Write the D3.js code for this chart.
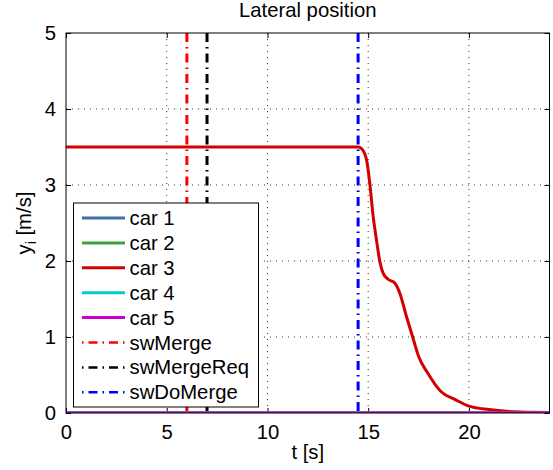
<!DOCTYPE html>
<html>
<head>
<meta charset="utf-8">
<script src="https://cdn.jsdelivr.net/npm/d3@7"></script>
<style>
   body { margin: 0; background: #fff; }
   #chart { width: 553px; height: 470px; }
   text { font-family: "Liberation Sans", Arial, sans-serif; fill: #000; }
</style>
</head>
<body>
<div id="chart"></div>
<script>
// Data
const timeValues = [0, 14.5, 14.67, 14.92, 15.08, 15.25, 15.41, 15.58, 15.74, 15.99, 16.32, 16.57, 16.9, 17.23, 17.51, 17.97, 18.55, 19.37, 20, 21, 22, 23, 24];
const car1Values = [0, 0];
const car2Values = [0, 0];
const car3Values = [3.5, 3.5, 3.48, 3.33, 3.02, 2.58, 2.28, 1.99, 1.84, 1.76, 1.71, 1.575, 1.27, 0.98, 0.74, 0.52, 0.30, 0.17, 0.09, 0.045, 0.02, 0.01, 0.005];
const car4Values = [0, 0];
const car5Values = [0, 0];
const flatTimes = [0, 24];
const switchNames = ["swMerge", "swMergeReq", "swDoMerge"];
const switchTimes = [6, 7, 14.5];
const xTicks = [0, 5, 10, 15, 20];
const yTicks = [0, 1, 2, 3, 4, 5];

const carSeries = [
   { name: "car 1", t: flatTimes, y: car1Values, color: "#3f6fa8" },
   { name: "car 2", t: flatTimes, y: car2Values, color: "#3ca33c" },
   { name: "car 3", t: timeValues, y: car3Values, color: "#d40000" },
   { name: "car 4", t: flatTimes, y: car4Values, color: "#00cccc" },
   { name: "car 5", t: flatTimes, y: car5Values, color: "#cc00cc" }
];
const switchColors = ["#ff0000", "#000000", "#0000ff"];
const dashDot = "9,5,1.5,5";
const fontSize = 20.3;

const margin = { top: 33, right: 3.5, bottom: 57, left: 66 };
const width = 553 - margin.left - margin.right;
const height = 470 - margin.top - margin.bottom;

const svg = d3.select("#chart").append("svg")
   .attr("width", 553)
   .attr("height", 470);

const g = svg.append("g")
   .attr("transform", "translate(" + margin.left + "," + margin.top + ")");

const x = d3.scaleLinear().domain([0, 24]).range([0, width]);
const y = d3.scaleLinear().domain([0, 5]).range([height, 0]);

g.append("clipPath").attr("id", "plot-clip")
   .append("rect").attr("width", width).attr("height", height);

// Grid lines (dotted)
const grid = g.append("g").attr("class", "grid");

grid.selectAll("line.gx").data(xTicks.filter(d => d > 0))
   .enter().append("line")
   .attr("class", "gx")
   .attr("x1", d => x(d)).attr("x2", d => x(d))
   .attr("y1", 0).attr("y2", height)
   .attr("stroke", "#333").attr("stroke-width", 1).attr("stroke-dasharray", "1,5");

grid.selectAll("line.gy").data(yTicks.filter(d => d > 0 && d < 5))
   .enter().append("line")
   .attr("class", "gy")
   .attr("x1", 0).attr("x2", width)
   .attr("y1", d => y(d)).attr("y2", d => y(d))
   .attr("stroke", "#333").attr("stroke-width", 1).attr("stroke-dasharray", "1,5");

// Axes with inward ticks on all four sides
const tickLen = 5;
const fmt = d3.format("d");

g.append("g").attr("transform", "translate(0," + height + ")")
   .call(d3.axisBottom(x).tickValues(xTicks).tickFormat(fmt).tickSizeInner(-tickLen).tickSizeOuter(0).tickPadding(12))
   .call(a => a.select(".domain").remove())
   .call(a => a.selectAll("text").attr("font-size", fontSize).attr("font-family", "Liberation Sans"));

g.append("g")
   .call(d3.axisTop(x).tickValues(xTicks).tickSizeInner(-tickLen).tickSizeOuter(0).tickFormat(""))
   .call(a => a.select(".domain").remove());

g.append("g")
   .call(d3.axisLeft(y).tickValues(yTicks).tickFormat(fmt).tickSizeInner(-tickLen).tickSizeOuter(0).tickPadding(10))
   .call(a => a.select(".domain").remove())
   .call(a => a.selectAll("text").attr("font-size", fontSize).attr("font-family", "Liberation Sans"));

g.append("g").attr("transform", "translate(" + width + ",0)")
   .call(d3.axisRight(y).tickValues(yTicks).tickSizeInner(-tickLen).tickSizeOuter(0).tickFormat(""))
   .call(a => a.select(".domain").remove());

// Car lines
const line = d3.line()
   .x(d => x(d[0]))
   .y(d => y(d[1]))
   .curve(d3.curveMonotoneX);

const plot = g.append("g").attr("clip-path", "url(#plot-clip)");

plot.selectAll(".car").data(carSeries)
   .enter().append("path")
   .attr("class", "car")
   .attr("d", d => line(d.t.map((t, i) => [t, d.y[i]])))
   .attr("fill", "none")
   .attr("stroke", d => d.color)
   .attr("stroke-width", 3);

// Switch time markers
plot.selectAll(".switch").data(switchTimes)
   .enter().append("line")
   .attr("class", "switch")
   .attr("x1", d => x(d)).attr("x2", d => x(d))
   .attr("y1", 0).attr("y2", height)
   .attr("stroke", (d, i) => switchColors[i])
   .attr("stroke-width", 3)
   .attr("stroke-dasharray", dashDot);

// Axes box
g.append("rect")
   .attr("width", width).attr("height", height)
   .attr("fill", "none").attr("stroke", "#000").attr("stroke-width", 1);

// Title and labels
svg.append("text")
   .attr("x", margin.left + width / 2).attr("y", 17)
   .attr("text-anchor", "middle").attr("font-size", fontSize)
   .text("Lateral position");

svg.append("text")
   .attr("x", margin.left + width / 2).attr("y", 459)
   .attr("text-anchor", "middle").attr("font-size", fontSize)
   .text("t [s]");

const yLabel = svg.append("text")
   .attr("transform", "translate(31," + (margin.top + height / 2) + ") rotate(-90)")
   .attr("text-anchor", "middle").attr("font-size", fontSize);
yLabel.append("tspan").text("y");
yLabel.append("tspan").attr("font-size", 14).attr("dy", 5).text("i");
yLabel.append("tspan").attr("dy", -5).text(" [m/s]");

// Legend
const legendItems = carSeries.map(d => ({ name: d.name, color: d.color, dash: null }))
   .concat(switchNames.map((n, i) => ({ name: n, color: switchColors[i], dash: dashDot })));

const legend = svg.append("g").attr("transform", "translate(73.5,203)");
legend.append("rect")
   .attr("width", 185).attr("height", 204)
   .attr("fill", "#fff").attr("stroke", "#000").attr("stroke-width", 1);

const rows = legend.selectAll(".row").data(legendItems)
   .enter().append("g")
   .attr("class", "row")
   .attr("transform", (d, i) => "translate(0," + (15 + i * 24.9) + ")");

rows.append("line")
   .attr("x1", 8.5).attr("x2", 51.5)
   .attr("stroke", d => d.color)
   .attr("stroke-width", d => d.dash ? 2.5 : 3)
   .attr("stroke-dasharray", d => d.dash ? "1.5,5,9,5" : null);

rows.append("text")
   .attr("x", 56).attr("y", 7)
   .attr("font-size", fontSize)
   .text(d => d.name);
</script>
</body>
</html>
